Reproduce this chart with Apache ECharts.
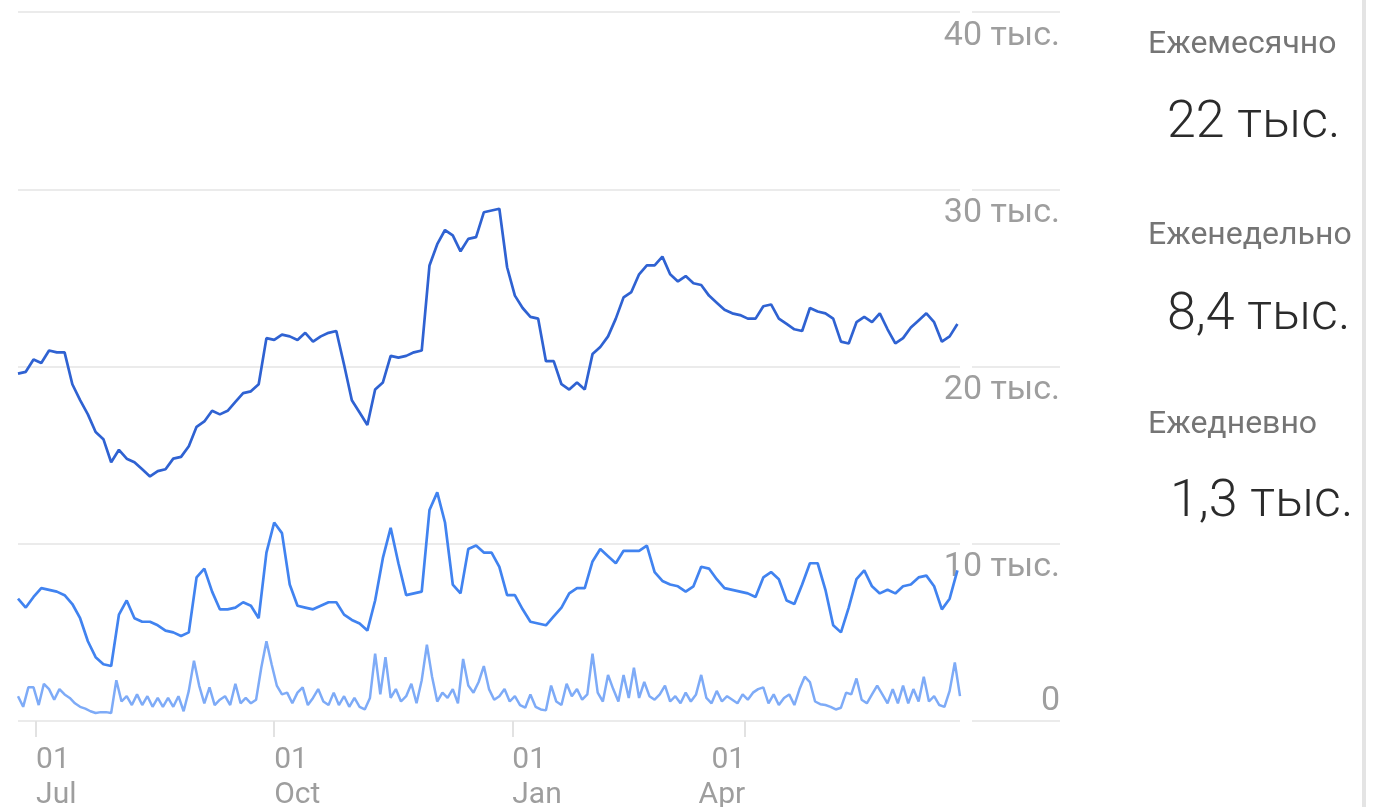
<!DOCTYPE html>
<html><head><meta charset="utf-8">
<script src="https://cdn.jsdelivr.net/npm/echarts@6/dist/echarts.min.js"></script>
<style>html,body{margin:0;padding:0;background:#fff}#c{width:1375px;height:807px}</style>
</head><body><div id="c"></div>
<script>
// Day index 0 = 24 Jun; x axis counted in days
const monthlyStep = 3;
const weeklyStep = 3;
const dailyStep = 2;
const lastDay = 364;

// Values in thousands of users
const monthly = [
19.6,19.7,20.4,20.2,20.9,20.8,20.8,19.0,18.1,17.3,
16.3,15.9,14.6,15.3,14.8,14.6,14.2,13.8,14.1,14.2,
14.8,14.9,15.5,16.6,16.9,17.5,17.3,17.5,18.0,18.5,
18.6,19.0,21.6,21.5,21.8,21.7,21.5,21.9,21.4,21.7,
21.9,22.0,20.1,18.1,17.4,16.7,18.7,19.1,20.6,20.5,
20.6,20.8,20.9,25.7,26.9,27.7,27.4,26.5,27.2,27.3,
28.7,28.8,28.9,25.6,24.0,23.3,22.8,22.7,20.3,20.3,
19.0,18.7,19.1,18.7,20.7,21.1,21.7,22.7,23.9,24.2,
25.2,25.7,25.7,26.2,25.2,24.8,25.1,24.7,24.6,24.0,
23.6,23.2,23.0,22.9,22.7,22.7,23.4,23.5,22.7,22.4,
22.1,22.0,23.3,23.1,23.0,22.7,21.4,21.3,22.5,22.8,
22.5,23.0,22.1,21.3,21.6,22.2,22.6,23.0,22.5,21.4,
21.7,22.4
];
const weekly = [
6.9,6.4,7.0,7.5,7.4,7.3,7.1,6.6,5.8,4.5,
3.6,3.2,3.1,6.0,6.8,5.8,5.6,5.6,5.4,5.1,
5.0,4.8,5.0,8.1,8.6,7.3,6.3,6.3,6.4,6.7,
6.5,5.8,9.5,11.2,10.6,7.7,6.5,6.4,6.3,6.5,
6.7,6.7,6.0,5.7,5.5,5.1,6.8,9.2,10.9,8.9,
7.1,7.2,7.3,11.9,12.9,11.2,7.7,7.2,9.7,9.9,
9.5,9.5,8.7,7.1,7.1,6.3,5.6,5.5,5.4,5.9,
6.4,7.2,7.5,7.5,9.0,9.7,9.3,8.9,9.6,9.6,
9.6,9.9,8.4,7.9,7.7,7.6,7.3,7.6,8.7,8.6,
8.0,7.5,7.4,7.3,7.2,7.0,8.1,8.4,8.0,6.8,
6.6,7.7,8.9,8.9,7.4,5.4,5.0,6.4,8.0,8.5,
7.6,7.2,7.4,7.2,7.6,7.7,8.1,8.2,7.6,6.3,
6.9,8.5
];
const daily = [
1.4,0.8,1.9,1.9,0.9,2.1,1.8,1.2,1.8,1.5,
1.3,1.0,0.8,0.7,0.55,0.45,0.5,0.5,0.45,2.3,
1.1,1.4,0.9,1.5,0.9,1.4,0.8,1.3,0.8,1.3,
0.8,1.4,0.55,1.7,3.4,2.0,1.0,1.9,0.9,1.2,
1.4,0.9,2.1,1.0,1.3,1.0,1.2,3.0,4.5,3.2,
2.0,1.5,1.6,1.0,1.6,1.9,0.9,1.3,1.8,1.1,
0.9,1.6,0.9,1.4,0.8,1.3,0.8,0.65,1.3,3.8,
1.5,3.6,1.3,1.8,1.1,1.4,2.1,1.0,2.3,4.3,
2.5,1.1,1.6,1.3,1.8,1.0,3.5,2.0,1.6,2.2,
3.1,1.8,1.2,1.4,1.8,1.1,1.4,0.9,0.75,1.5,
0.8,0.65,0.6,2.0,1.1,0.9,2.1,1.4,1.8,1.2,
1.5,3.8,1.6,1.1,2.6,1.8,1.1,2.6,1.3,3.0,
1.3,2.2,1.4,1.2,1.5,2.0,1.1,1.4,1.0,1.6,
1.1,1.5,2.6,1.3,1.0,1.7,1.1,1.4,1.2,1.0,
1.5,1.2,1.6,1.8,1.9,1.0,1.5,0.9,1.3,1.5,
0.9,1.8,2.5,2.2,1.1,0.95,0.9,0.8,0.65,0.75,
1.6,1.5,2.4,1.2,1.0,1.5,2.0,1.5,1.0,1.8,
1.0,2.0,1.0,1.8,1.1,2.5,1.1,1.4,0.9,0.8,
1.7,3.3,1.4
];

const tickDays = [7, 99, 191, 281];
const tickLabels = ['01\nJul', '01\nOct', '01\nJan', '01\nApr'];
const yMax = 40, yInterval = 10;
const yUnit = ' тыс.';

const summaryLabels = ['Ежемесячно', 'Еженедельно', 'Ежедневно'];
const summaryValues = ['22 тыс.', '8,4 тыс.', '1,3 тыс.'];

const toPairs = (arr, step) => arr.map((v, i) => [i * step, v]);

const chart = echarts.init(document.getElementById('c'), null, {renderer: 'canvas'});
const gray = '#9e9e9e';
const font = 'Roboto, "Noto Sans", sans-serif';
const labelForDay = d => tickLabels[tickDays.indexOf(d)] || '';

const lastTick = tickDays[tickDays.length - 1];

const option = {
  animation: false,
  backgroundColor: '#ffffff',
  textStyle: {fontFamily: font},
  grid: [
    {left: 18, right: 415, top: 12, bottom: 86, containLabel: false, outerBoundsMode: 'none'},
    {left: 972, right: 315, top: 12, bottom: 86, containLabel: false, outerBoundsMode: 'none'}
  ],
  xAxis: [
    {
      type: 'value', gridIndex: 0, min: 0, max: lastDay,
      axisLine: {show: false}, splitLine: {show: false},
      axisTick: {show: true, length: 16, customValues: tickDays,
        lineStyle: {color: '#e2e2e2', width: 2}},
      axisLabel: {customValues: tickDays.slice(0, -1), formatter: labelForDay,
        align: 'left', fontSize: 30, lineHeight: 35, color: gray, margin: 22, fontFamily: font}
    },
    {
      type: 'value', gridIndex: 0, min: 0, max: lastDay, position: 'bottom',
      axisLine: {show: false}, splitLine: {show: false}, axisTick: {show: false},
      axisLabel: {customValues: [lastTick], formatter: labelForDay,
        align: 'right', fontSize: 30, lineHeight: 35, color: gray, margin: 22, fontFamily: font}
    },
    {
      type: 'value', gridIndex: 1, min: 0, max: 1, show: false
    }
  ],
  yAxis: [
    {
      type: 'value', gridIndex: 0, position: 'right', min: 0, max: yMax, interval: yInterval,
      axisLine: {show: false}, axisTick: {show: false},
      splitLine: {show: true, lineStyle: {color: '#ebebeb', width: 2}},
      axisLabel: {
        margin: 100, align: 'right',
        formatter: v => v === 0 ? '{z|0}' : '{a|' + v + yUnit + '}',
        rich: {
          a: {fontSize: 34, lineHeight: 34, color: gray, padding: [48, 0, 0, 0], fontFamily: font},
          z: {fontSize: 34, lineHeight: 34, color: gray, padding: [0, 0, 40, 0], fontFamily: font}
        }
      }
    },
    {
      type: 'value', gridIndex: 1, min: 0, max: yMax, interval: yInterval,
      axisLine: {show: false}, axisTick: {show: false}, axisLabel: {show: false},
      splitLine: {show: true, lineStyle: {color: '#ebebeb', width: 2}}
    }
  ],
  series: [
    {name: 'Ежедневно', type: 'line', xAxisIndex: 0, yAxisIndex: 0, data: toPairs(daily, dailyStep),
      showSymbol: false, symbol: 'none', lineStyle: {color: '#7eabf7', width: 2.5}, z: 2},
    {name: 'Еженедельно', type: 'line', xAxisIndex: 0, yAxisIndex: 0, data: toPairs(weekly, weeklyStep),
      showSymbol: false, symbol: 'none', lineStyle: {color: '#4183f0', width: 2.7}, z: 3},
    {name: 'Ежемесячно', type: 'line', xAxisIndex: 0, yAxisIndex: 0, data: toPairs(monthly, monthlyStep),
      showSymbol: false, symbol: 'none', lineStyle: {color: '#2f62d2', width: 2.7}, z: 4}
  ],
  graphic: [
    {type: 'rect', shape: {x: 1362, y: 0, width: 4, height: 807}, style: {fill: '#e4e4e4'}, silent: true}
  ].concat(
    summaryLabels.map((t, i) => ({
      type: 'text', x: 1148, y: [45, 236, 425][i], silent: true,
      style: {text: t, font: '32px ' + font, fill: '#757575',
        align: 'left', verticalAlign: 'middle', textAlign: 'left', textVerticalAlign: 'middle'}
    })),
    summaryValues.map((t, i) => ({
      type: 'text', x: [1167, 1167, 1170][i], y: [124, 316, 503][i], silent: true,
      style: {text: t, font: '300 52px ' + font, fill: '#2b2b2b',
        align: 'left', verticalAlign: 'middle', textAlign: 'left', textVerticalAlign: 'middle'}
    }))
  )
};
chart.setOption(option);
</script>
</body></html>
